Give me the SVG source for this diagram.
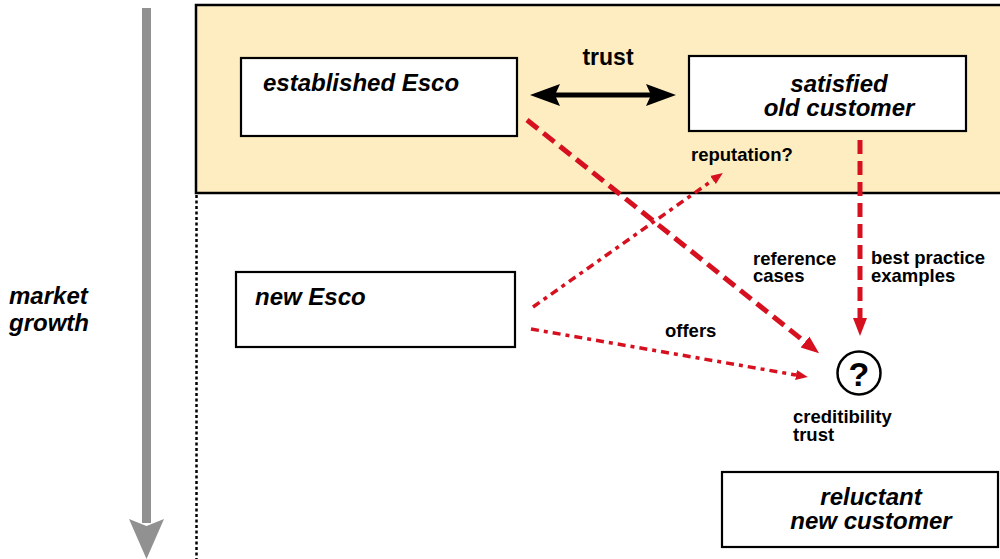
<svg xmlns="http://www.w3.org/2000/svg" width="1000" height="559" viewBox="0 0 1000 559">
  <style>
    .box { fill: #ffffff; stroke: #000000; stroke-width: 2.2; }
    .big { font-family: "Liberation Sans", Arial, sans-serif; font-weight: bold; font-style: italic; font-size: 24px; fill: #000000; }
    .lbl { font-family: "Liberation Sans", Arial, sans-serif; font-weight: bold; font-size: 18.5px; fill: #000000; }
    .lbl.q { font-size: 34px; }
    .lbl.title { font-size: 23px; }
    .red { fill: none; stroke: #d6101e; }
    .thick { stroke-width: 5; stroke-dasharray: 14 7; }
    .thin { stroke-width: 3.5; stroke-dasharray: 8 5 4 5; }
  </style>
  <defs>
    <marker id="redHead" markerUnits="userSpaceOnUse" markerWidth="20" markerHeight="16" refX="0" refY="8" orient="auto" viewBox="0 0 20 16">
      <path d="M0,1 L18,8 L0,15 z" fill="#d6101e"/>
    </marker>
    <marker id="redHeadSmall" markerUnits="userSpaceOnUse" markerWidth="14" markerHeight="12" refX="0" refY="6" orient="auto" viewBox="0 0 14 12">
      <path d="M0,1 L12,6 L0,11 z" fill="#d6101e"/>
    </marker>
  </defs>

  <rect width="1000" height="559" fill="#ffffff"/>

  <!-- market growth axis -->
  <g id="market-growth">
    <rect x="142" y="8" width="9" height="515" fill="#919191"/>
    <polygon points="129,519 146.5,526 164,519 146.5,559" fill="#919191"/>
    <text class="big"><tspan x="9" y="304">market</tspan><tspan x="9" y="331">growth</tspan></text>
  </g>

  <!-- established market band -->
  <g id="established-market">
    <rect x="196" y="5" width="812" height="188" fill="#feedc0" stroke="#000000" stroke-width="2.5"/>
    <line x1="196.5" y1="195" x2="196.5" y2="559" stroke="#000000" stroke-width="2.5" stroke-dasharray="3 2.5"/>
  </g>

  <g id="established-esco">
    <rect class="box" x="241" y="58" width="276" height="78"/>
    <text class="big" x="263" y="91">established Esco</text>
  </g>

  <g id="satisfied-old-customer">
    <rect class="box" x="689" y="56" width="277" height="75"/>
    <text class="big" text-anchor="middle"><tspan x="839" y="92">satisfied</tspan><tspan x="839" y="116">old customer</tspan></text>
  </g>

  <g id="new-esco">
    <rect class="box" x="236" y="272" width="279" height="75"/>
    <text class="big" x="255" y="305">new Esco</text>
  </g>

  <g id="reluctant-new-customer">
    <rect class="box" x="722" y="472" width="276" height="75"/>
    <text class="big" text-anchor="middle"><tspan x="871" y="505">reluctant</tspan><tspan x="871" y="529">new customer</tspan></text>
  </g>

  <g id="credibility">
    <circle cx="859" cy="373" r="21.5" fill="#ffffff" stroke="#000000" stroke-width="2.5"/>
    <text class="lbl q" x="859" y="386" text-anchor="middle">?</text>
    <text class="lbl"><tspan x="793" y="423">creditibility</tspan><tspan x="793" y="441">trust</tspan></text>
  </g>

  <!-- connectors -->
  <g id="connectors">
    <!-- trust: two-headed black arrow -->
    <g id="trust-link">
      <line x1="553" y1="95" x2="652" y2="95" stroke="#000000" stroke-width="5"/>
      <polygon points="530,95 560,84 555,95 560,106" fill="#000000"/>
      <polygon points="676,95 646,84 651,95 646,106" fill="#000000"/>
      <text class="lbl title" x="608" y="65" text-anchor="middle">trust</text>
    </g>

    <!-- reference cases -->
    <line class="red thick" x1="527" y1="120" x2="805" y2="342" marker-end="url(#redHead)"/>
    <text class="lbl"><tspan x="753" y="265">reference</tspan><tspan x="753" y="282">cases</tspan></text>

    <!-- best practice examples -->
    <line class="red thick" x1="860" y1="140" x2="860" y2="318" marker-end="url(#redHead)"/>
    <text class="lbl"><tspan x="871" y="264">best practice</tspan><tspan x="871" y="282">examples</tspan></text>

    <!-- reputation? -->
    <line class="red thin" x1="533" y1="307" x2="713" y2="180" marker-end="url(#redHeadSmall)"/>
    <text class="lbl" x="691" y="161">reputation?</text>

    <!-- offers -->
    <line class="red thin" x1="531" y1="329" x2="796" y2="375" marker-end="url(#redHeadSmall)"/>
    <text class="lbl" x="665" y="337">offers</text>
  </g>
</svg>
